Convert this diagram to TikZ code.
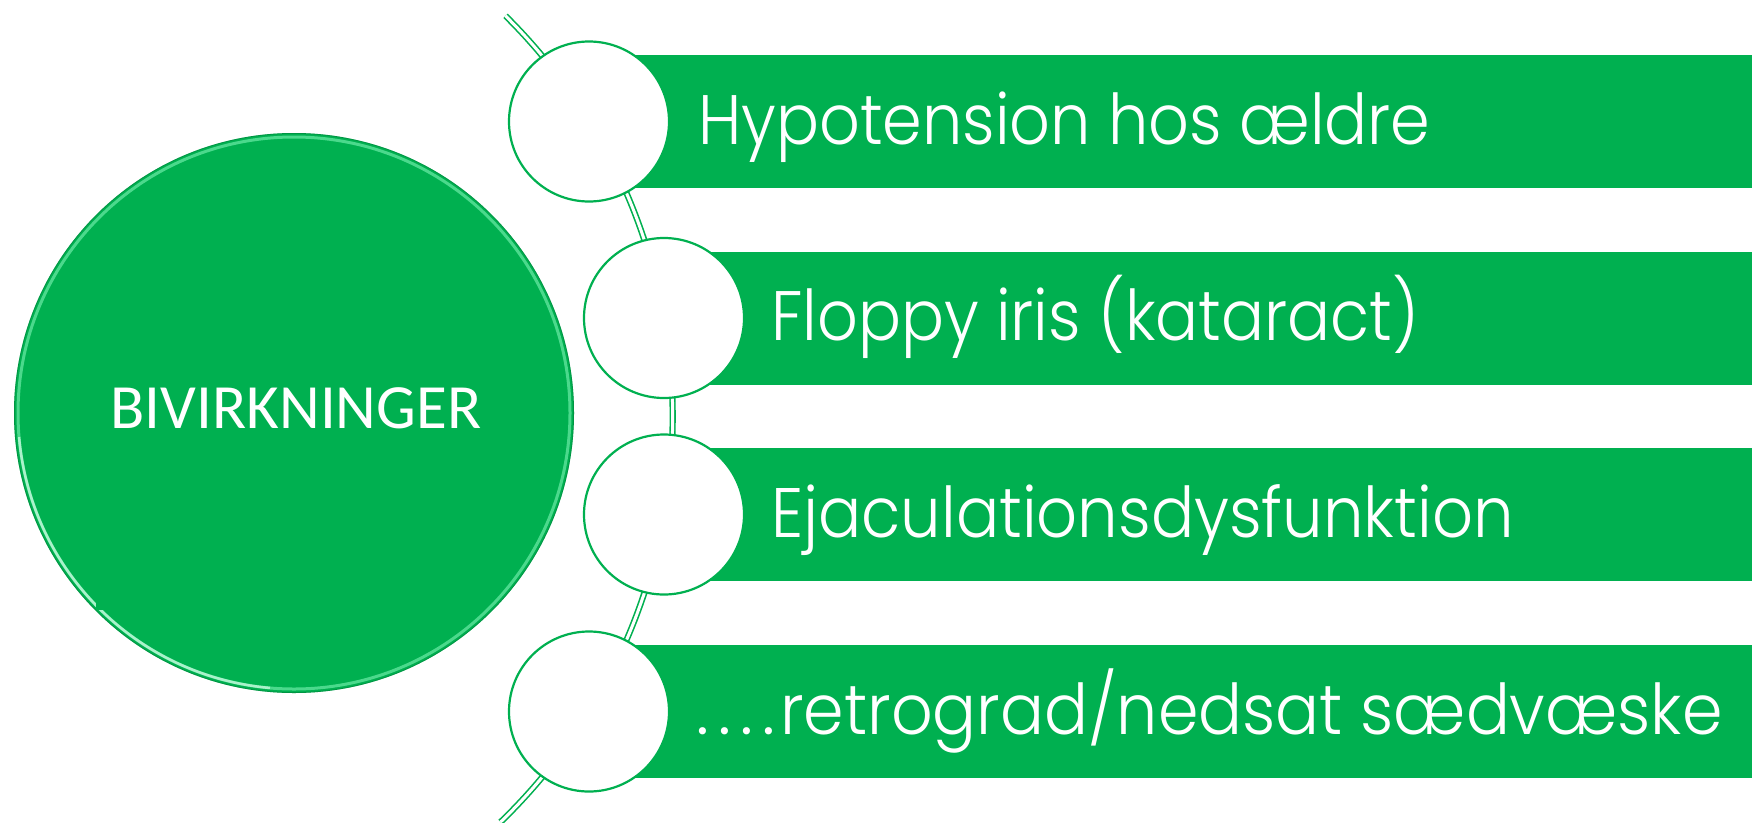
\documentclass[tikz,border=0pt]{standalone}
\usepackage{fontspec}
\setmainfont{Poppins}[UprightFont={* Light}]
\newfontfamily\calib{Carlito}
\definecolor{ogreen}{HTML}{00B050}
\definecolor{rim}{HTML}{7DF5B5}
\newcommand{\sq}[1]{\scalebox{0.91}[1]{#1}}
\newcommand{\dotbox}{\makebox[22pt][c]{.}}
\begin{document}
\begin{tikzpicture}[x=1pt,y=-1pt,
  bar/.style={fill=ogreen},
  dot/.style={circle, draw=ogreen, line width=2.2pt, fill=white, minimum size=160pt, inner sep=0pt},
  lbl/.style={anchor=base west, text=white, inner sep=0pt, font=\fontsize{70}{84}\selectfont},
  link/.style={draw=ogreen, line width=1.6pt, double=white, double distance=3pt}]
\useasboundingbox (0,0) rectangle (1752,822);
\fill[white] (0,0) rectangle (1752,822);
% connector arc
\coordinate (ac) at (109,416.5);
\draw[link] ([shift={(-45.3:563.7)}]ac) arc[start angle=-45.3, end angle=46, radius=563.7];
% big circle
\node[circle, fill=ogreen, minimum size=560pt, inner sep=0pt] (big) at (294,413) {};
\draw[ogreen!70!black, line width=0.8pt, opacity=0.5] (big.center) circle[radius=279.6];
\draw[rim, line width=3pt, opacity=0.6] (big.center) circle[radius=276];
\draw[rim!40!white, line width=2.5pt, opacity=0.75] ([shift={(95:276)}]big.center) arc[start angle=95, end angle=175, radius=276];
\fill[ogreen] (96,575) rectangle (125,610);
\node[anchor=base, text=white, inner sep=0pt, font=\calib\fontsize{63}{74}\selectfont] (bl) at (296,428) {BIVIRKNINGER};
% bars
\path[bar] (589,55) rectangle (1752,188);
\path[bar] (664,251.5) rectangle (1752,384.5);
\path[bar] (664,448) rectangle (1752,581);
\path[bar] (589,645) rectangle (1752,778);
% small circles
\node[dot] (c1) at (589,121.5) {};
\node[dot] (c2) at (664,318) {};
\node[dot] (c3) at (664,514.5) {};
\node[dot] (c4) at (589,711.5) {};
% labels
\node[lbl] (t1) at (698,144) {\sq{Hypotension hos ældre}};
\node[lbl] (t2) at (771,340.5) {\sq{Floppy iris (kataract)}};
\node[lbl] (t3) at (771,537) {\scalebox{0.915}[1]{Ejaculationsdysfunktion}};
\node[lbl] (t4) at (692,734) {\dotbox\dotbox\dotbox\dotbox\scalebox{0.93}[1]{retrograd/nedsat sædvæske}};
\end{tikzpicture}
\end{document}
